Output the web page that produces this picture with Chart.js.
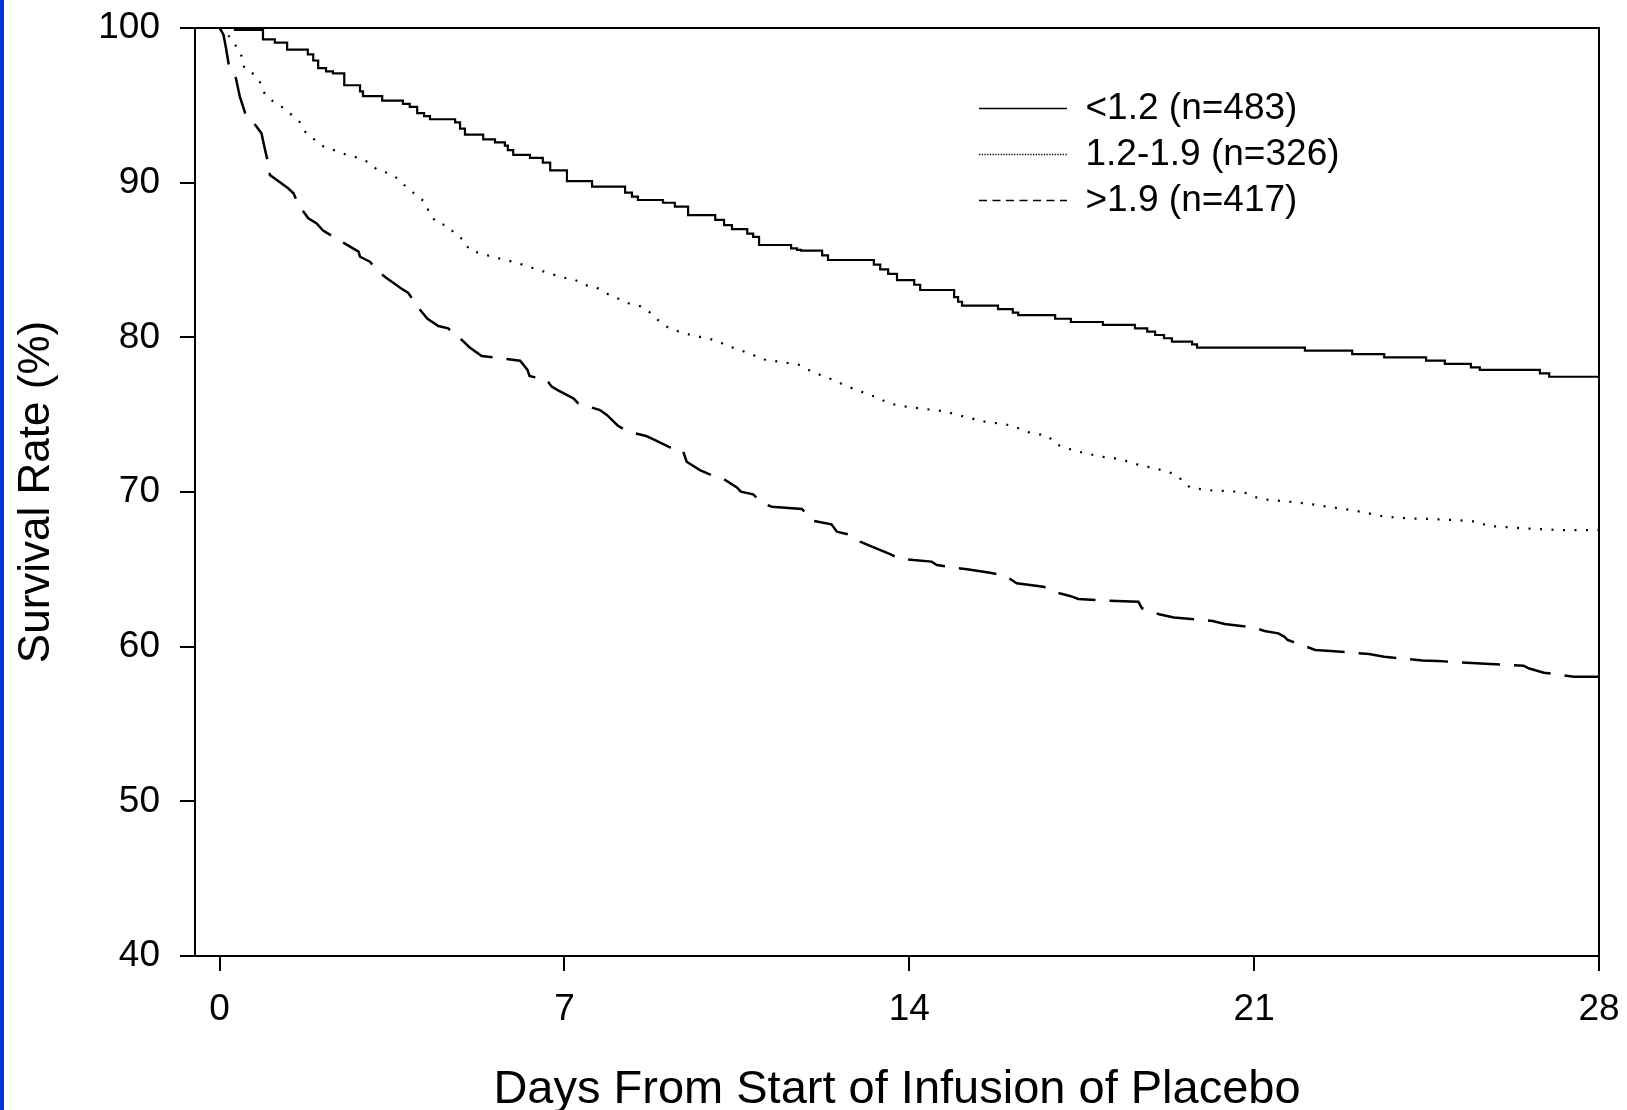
<!DOCTYPE html>
<html>
<head>
<meta charset="utf-8">
<script src="https://cdn.jsdelivr.net/npm/chart.js@4/dist/chart.umd.min.js"></script>
<style>
  html, body { margin: 0; padding: 0; background: #ffffff; overflow: hidden; }
  #wrap { position: relative; width: 1627px; height: 1110px; }
  #c { position: absolute; left: 0; top: 0; }
  #stripe { position: absolute; left: 0; top: 0; width: 4px; height: 1110px; background: #0433d6; }
</style>
</head>
<body>
<div id="wrap">
  <canvas id="c" width="1627" height="1110"></canvas>
  <div id="stripe"></div>
</div>
<script>
// ---- data ----
const seriesLabels = ['<1.2 (n=483)', '1.2-1.9 (n=326)', '>1.9 (n=417)'];

const daysLow = [0, 0.31, 0.88, 1.12, 1.37, 1.79, 1.90, 2.00, 2.16, 2.30, 2.53, 2.85, 2.91, 3.30, 3.72, 3.86, 4.01, 4.15, 4.27, 4.78, 4.88, 4.98, 5.35, 5.59, 5.79, 5.85, 5.96, 6.30, 6.56, 6.71, 7.05, 7.56, 8.23, 8.37, 8.49, 9.00, 9.24, 9.51, 10.06, 10.24, 10.40, 10.71, 10.83, 10.95, 11.60, 11.72, 11.80, 12.23, 12.35, 13.28, 13.41, 13.57, 13.75, 14.10, 14.22, 14.91, 14.99, 15.07, 15.80, 16.10, 16.21, 16.96, 17.28, 17.93, 18.58, 18.83, 18.99, 19.17, 19.33, 19.74, 19.84, 22.03, 22.99, 23.64, 24.49, 24.87, 25.40, 25.58, 26.80, 26.99, 28];
const survLow = [100, 99.87, 99.27, 99.05, 98.6, 98.3, 97.9, 97.4, 97.2, 97.07, 96.3, 95.9, 95.6, 95.3, 95.1, 94.9, 94.5, 94.3, 94.1, 93.9, 93.5, 93.1, 92.8, 92.6, 92.4, 92.1, 91.8, 91.6, 91.3, 90.8, 90.1, 89.75, 89.35, 89.1, 88.88, 88.7, 88.45, 87.9, 87.6, 87.26, 87.0, 86.7, 86.5, 85.97, 85.75, 85.65, 85.6, 85.3, 85.0, 84.7, 84.4, 84.1, 83.7, 83.4, 83.06, 82.6, 82.3, 82.05, 81.83, 81.6, 81.44, 81.2, 80.99, 80.8, 80.58, 80.37, 80.15, 79.94, 79.72, 79.55, 79.33, 79.14, 78.92, 78.71, 78.49, 78.28, 78.06, 77.89, 77.67, 77.45, 77.45];

const daysMid = [0, 0.20, 0.33, 0.46, 0.50, 0.70, 0.84, 0.92, 1.09, 1.31, 1.46, 1.62, 1.75, 1.96, 2.12, 2.36, 2.58, 2.82, 3.03, 3.21, 3.44, 3.63, 3.78, 3.97, 4.18, 4.26, 4.41, 4.64, 4.78, 4.98, 5.06, 5.30, 5.54, 5.76, 6.00, 6.25, 6.47, 6.71, 6.94, 7.18, 7.42, 7.64, 7.88, 8.11, 8.33, 8.55, 8.72, 8.93, 9.14, 9.38, 9.61, 9.84, 10.09, 10.32, 10.56, 10.79, 11.02, 11.26, 11.49, 11.72, 11.96, 12.19, 12.42, 12.65, 12.89, 13.12, 13.35, 13.59, 13.82, 14.05, 14.29, 14.52, 14.75, 14.98, 15.22, 15.45, 15.68, 15.92, 16.15, 16.36, 16.59, 16.81, 16.97, 17.20, 17.43, 17.67, 17.90, 18.14, 18.38, 18.61, 18.85, 19.08, 19.32, 19.54, 19.70, 19.94, 20.17, 20.40, 20.63, 20.86, 21.08, 21.32, 21.56, 21.78, 22.02, 22.26, 22.49, 22.72, 22.95, 23.19, 23.41, 23.65, 23.88, 24.11, 24.59, 25.06, 25.53, 25.75, 25.99, 26.45, 26.93, 27.18, 28];
const survMid = [100, 99.44, 98.84, 98.1, 97.4, 97.0, 96.4, 95.7, 95.24, 94.8, 94.38, 93.94, 93.23, 92.7, 92.3, 92.07, 91.8, 91.6, 91.3, 90.8, 90.6, 90.24, 89.74, 89.25, 88.7, 88.0, 87.4, 87.2, 86.66, 86.25, 85.65, 85.43, 85.2, 85.04, 84.85, 84.6, 84.35, 84.14, 83.88, 83.77, 83.38, 83.24, 82.8, 82.48, 82.16, 82.0, 81.64, 81.03, 80.55, 80.32, 80.11, 79.98, 79.78, 79.44, 79.18, 78.92, 78.58, 78.47, 78.36, 78.28, 77.89, 77.57, 77.29, 76.96, 76.64, 76.38, 76.1, 75.73, 75.58, 75.47, 75.37, 75.3, 75.19, 74.98, 74.8, 74.59, 74.48, 74.4, 74.22, 73.9, 73.75, 73.64, 73.1, 72.83, 72.61, 72.44, 72.28, 72.2, 72.03, 71.8, 71.62, 71.45, 71.22, 70.78, 70.28, 70.18, 70.09, 70.07, 70.02, 69.92, 69.6, 69.48, 69.42, 69.35, 69.27, 69.16, 69.05, 68.95, 68.84, 68.71, 68.56, 68.4, 68.36, 68.3, 68.25, 68.19, 68.08, 67.8, 67.76, 67.65, 67.59, 67.54, 67.54];

const daysHigh = [0, 0.08, 0.13, 0.18, 0.33, 0.41, 0.52, 0.74, 0.85, 0.90, 0.97, 1.02, 1.21, 1.39, 1.50, 1.60, 1.80, 1.97, 2.10, 2.31, 2.51, 2.82, 2.85, 3.05, 3.21, 3.38, 3.68, 3.83, 4.00, 4.10, 4.22, 4.44, 4.64, 4.78, 4.91, 5.07, 5.32, 6.10, 6.25, 6.29, 6.64, 6.74, 6.88, 7.18, 7.28, 7.72, 7.86, 8.09, 8.30, 8.66, 8.84, 9.14, 9.40, 9.48, 9.75, 10.06, 10.26, 10.50, 10.58, 10.83, 11.02, 11.21, 11.82, 12.04, 12.42, 12.53, 12.76, 13.00, 13.24, 13.61, 13.78, 14.08, 14.45, 14.56, 14.89, 15.17, 15.64, 15.94, 16.18, 16.72, 16.96, 17.26, 17.43, 18.04, 18.65, 18.72, 19.07, 19.37, 20.16, 20.40, 21.01, 21.21, 21.49, 21.61, 21.68, 22.24, 22.55, 23.33, 23.64, 24.42, 24.73, 25.51, 25.79, 26.47, 26.57, 26.88, 27.49, 28];
const survHigh = [100, 99.55, 98.69, 97.72, 96.75, 95.56, 94.48, 93.66, 93.19, 92.44, 91.47, 90.5, 90.06, 89.64, 89.31, 88.56, 87.7, 87.37, 86.9, 86.5, 86.12, 85.54, 85.21, 84.89, 84.28, 83.85, 83.17, 82.87, 82.06, 81.66, 81.2, 80.73, 80.58, 80.15, 79.85, 79.36, 78.79, 78.49, 77.89, 77.5, 77.24, 76.81, 76.55, 76.06, 75.73, 75.3, 74.98, 74.27, 73.9, 73.62, 73.36, 72.89, 72.72, 71.96, 71.42, 70.99, 70.78, 70.3, 70.02, 69.85, 69.27, 69.05, 68.9, 68.14, 67.91, 67.43, 67.26, 66.79, 66.47, 65.99, 65.71, 65.6, 65.5, 65.28, 65.13, 65.0, 64.78, 64.59, 64.1, 63.88, 63.52, 63.28, 63.08, 62.97, 62.91, 62.49, 62.1, 61.88, 61.66, 61.47, 61.23, 61.01, 60.86, 60.65, 60.43, 59.79, 59.72, 59.53, 59.35, 59.1, 59.07, 58.93, 58.88, 58.77, 58.6, 58.32, 58.06, 58.06];

const xTicks = [0, 7, 14, 21, 28];
const yTicks = [40, 50, 60, 70, 80, 90, 100];
const xTitle = 'Days From Start of Infusion of Placebo';
const yTitle = 'Survival Rate (%)';

// ---- chart ----
const FONT = "'Liberation Sans', Arial, Helvetica, sans-serif";
Chart.defaults.font.family = FONT;
Chart.defaults.color = '#000';

const toPoints = (xs, ys) => xs.map((x, i) => ({ x: x, y: ys[i] }));

const axisCommon = {
  grid: { display: true, drawOnChartArea: false, drawTicks: true, tickLength: 15, color: '#000', lineWidth: 2 },
  border: { display: true, color: '#000', width: 2 },
};

const framePlugin = {
  id: 'frame',
  afterDraw(chart) {
    const { ctx, chartArea: a } = chart;
    ctx.save();
    ctx.strokeStyle = '#000';
    ctx.lineWidth = 2;
    ctx.beginPath();
    ctx.moveTo(a.left - 1, a.top);
    ctx.lineTo(a.right, a.top);
    ctx.lineTo(a.right, a.bottom + 1);
    ctx.stroke();
    ctx.restore();
  }
};

const placeLegend = {
  id: 'placeLegend',
  afterLayout(chart) {
    const lg = chart.legend;
    if (!lg) return;
    lg.left = 970;
    lg.top = 81;
  }
};

new Chart(document.getElementById('c'), {
  type: 'line',
  data: {
    datasets: [
      {
        label: seriesLabels[0],
        data: toPoints(daysLow, survLow),
        stepped: true,
        borderColor: '#000', borderWidth: 2.2,
        pointRadius: 0, fill: false,
        legendDash: [], legendWidth: 1.6
      },
      {
        label: seriesLabels[1],
        data: toPoints(daysMid, survMid),
        borderColor: '#000', borderWidth: 2.2, borderDash: [2, 9.5],
        pointRadius: 0, fill: false, tension: 0,
        legendDash: [1.3, 1.4], legendWidth: 1.5
      },
      {
        label: seriesLabels[2],
        data: toPoints(daysHigh, survHigh),
        borderColor: '#000', borderWidth: 2.5, borderDash: [38, 14],
        pointRadius: 0, fill: false, tension: 0,
        legendDash: [8, 5.5], legendWidth: 1.6
      }
    ]
  },
  options: {
    responsive: false,
    devicePixelRatio: 1,
    animation: false,
    layout: { padding: { top: 28, right: 28, left: 0, bottom: 0 } },
    plugins: {
      tooltip: { enabled: false },
      legend: {
        display: true,
        position: 'chartArea',
        align: 'start',
        labels: {
          usePointStyle: true,
          pointStyle: 'line',
          pointStyleWidth: 88,
          padding: 9,
          color: '#000',
          font: { family: FONT, size: 37 },
          generateLabels(chart) {
            const items = Chart.defaults.plugins.legend.labels.generateLabels(chart);
            items.forEach((it) => {
              const ds = chart.data.datasets[it.datasetIndex];
              it.pointStyle = 'line';
              it.lineDash = ds.legendDash;
              it.lineWidth = ds.legendWidth;
              it.strokeStyle = '#000';
              it.fontColor = '#000';
            });
            return items;
          }
        }
      }
    },
    scales: {
      x: {
        type: 'linear',
        position: 'bottom',
        min: -0.5, max: 28,
        ...axisCommon,
        afterBuildTicks(scale) { scale.ticks = xTicks.map(v => ({ value: v })); },
        afterFit(scale) { scale.height = 154; scale.paddingLeft = 0; scale.paddingRight = 0; },
        ticks: { font: { size: 37, lineHeight: 1.2 }, color: '#000', padding: 17, maxRotation: 0, autoSkip: false },
        title: { display: true, text: xTitle, color: '#000', font: { size: 47, lineHeight: 0.85 }, padding: { top: 0, bottom: 0 } }
      },
      y: {
        type: 'linear',
        position: 'left',
        min: 40, max: 100,
        ...axisCommon,
        afterBuildTicks(scale) { scale.ticks = yTicks.map(v => ({ value: v })); },
        afterFit(scale) { scale.width = 195; scale.paddingTop = 0; scale.paddingBottom = 0; },
        ticks: { font: { size: 37 }, color: '#000', padding: 20, autoSkip: false },
        title: { display: true, text: yTitle, color: '#000', font: { size: 44, lineHeight: 1 }, padding: { top: 15, bottom: 0 } }
      }
    }
  },
  plugins: [framePlugin, placeLegend]
});
</script>
</body>
</html>
